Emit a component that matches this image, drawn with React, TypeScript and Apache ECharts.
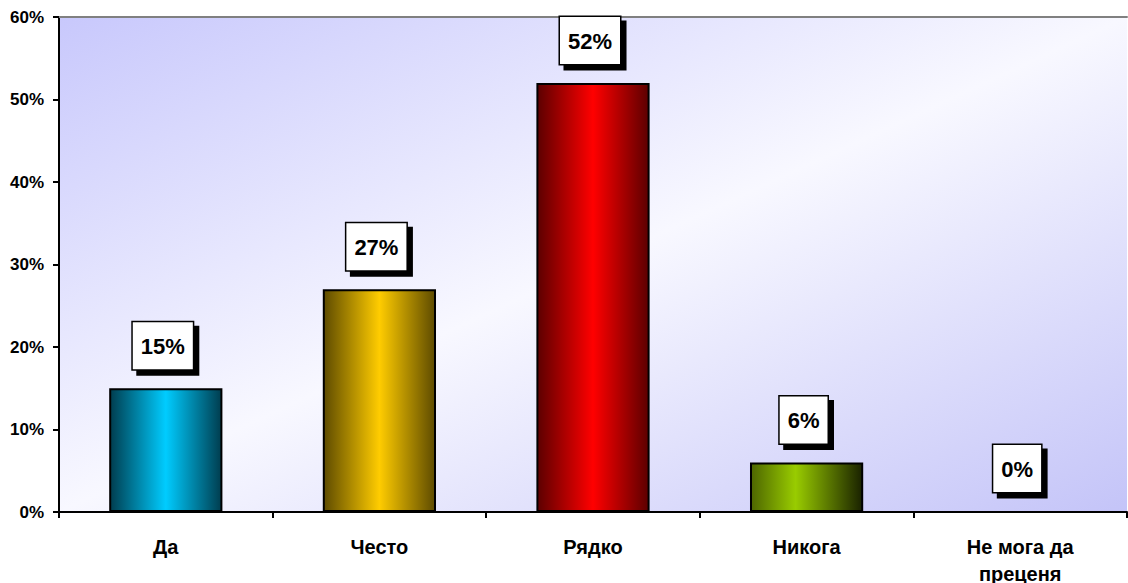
import React, { useEffect, useRef } from "react";
import * as echarts from "echarts";

const categories = ["Да", "Често", "Рядко", "Никога", "Не мога да\nпреценя"];
const values = [15, 27, 52, 6, 0];
const yTicks = { min: 0, max: 60, interval: 10 };

const palette = [
  ["#003d4f", "#00ccff", "#003d4f"],
  ["#5e4b00", "#ffcc00", "#5e4b00"],
  ["#5c0000", "#ff0000", "#5c0000"],
  ["#4d6600", "#99cc00", "#1a2200"],
  ["#3d3d99", "#9999ff", "#3d3d99"],
];

const FONT = "'Liberation Sans', Arial, sans-serif";

export default function App() {
  const ref = useRef<HTMLDivElement>(null);
  useEffect(() => {
    if (!ref.current) return;
    const chart = echarts.init(ref.current, null, { renderer: "svg" });
    const grad = (c: string[], mid = 0.5) =>
      new echarts.graphic.LinearGradient(0, 0, 1, 0, [
        { offset: 0, color: c[0] },
        { offset: mid, color: c[1] },
        { offset: 1, color: c[2] },
      ]);
    chart.setOption({
      animation: false,
      textStyle: { fontFamily: FONT },
      grid: {
        left: 59,
        right: 1,
        top: 17,
        bottom: 71,
        containLabel: false,
        outerBoundsMode: "none",
        show: true,
        borderWidth: 0,
        backgroundColor: new echarts.graphic.LinearGradient(0, 0, 1, 1, [
          { offset: 0, color: "#c8c8fc" },
          { offset: 0.5, color: "#f8f8ff" },
          { offset: 1, color: "#c4c4f8" },
        ]),
      },
      xAxis: [
        {
          type: "category",
          data: categories,
          axisLine: { lineStyle: { color: "#000", width: 2 } },
          axisTick: { show: true, length: 6, lineStyle: { color: "#000", width: 2 } },
          axisLabel: {
            margin: 21,
            color: "#000",
            fontWeight: "bold",
            fontSize: 20,
            lineHeight: 27,
            fontFamily: FONT,
            interval: 0,
          },
        },
        {
          type: "category",
          position: "top",
          data: categories,
          axisLine: { lineStyle: { color: "#808080", width: 2 } },
          axisTick: { show: false },
          axisLabel: { show: false },
        },
      ],
      yAxis: {
        type: "value",
        min: yTicks.min,
        max: yTicks.max,
        interval: yTicks.interval,
        axisLine: { show: true, lineStyle: { color: "#000", width: 2 } },
        axisTick: { show: true, length: 6, lineStyle: { color: "#000", width: 2 } },
        splitLine: { show: false },
        axisLabel: {
          formatter: (v: number) => "{y|" + v + "%}",
          margin: 15,
          rich: {
            y: {
              color: "#000",
              fontWeight: "bold",
              fontSize: 17,
              fontFamily: FONT,
            },
          },
        },
      },
      series: [
        {
          type: "bar",
          barWidth: "53%",
          data: values.map((v, i) => ({
            value: v,
            itemStyle: {
              color: grad(palette[i], i === 3 ? 0.4 : 0.5),
              borderColor: "#000",
              borderWidth: 2,
            },
          })),
          label: {
            show: true,
            position: "top",
            distance: 19,
            formatter: "{c}%",
            color: "#000",
            fontWeight: "bold",
            fontSize: 22,
            lineHeight: 22,
            fontFamily: FONT,
            backgroundColor: "#fff",
            borderColor: "#000",
            borderWidth: 1.5,
            padding: [13, 8, 12, 8],
            shadowColor: "#000",
            shadowBlur: 0,
            shadowOffsetX: 5,
            shadowOffsetY: 5,
            offset: [-3, 0],
          },
        },
      ],
    });
    return () => chart.dispose();
  }, []);
  return (
    <div
      ref={ref}
      style={{ position: "fixed", left: 0, top: 0, width: 1128, height: 583, background: "#fff" }}
    />
  );
}
